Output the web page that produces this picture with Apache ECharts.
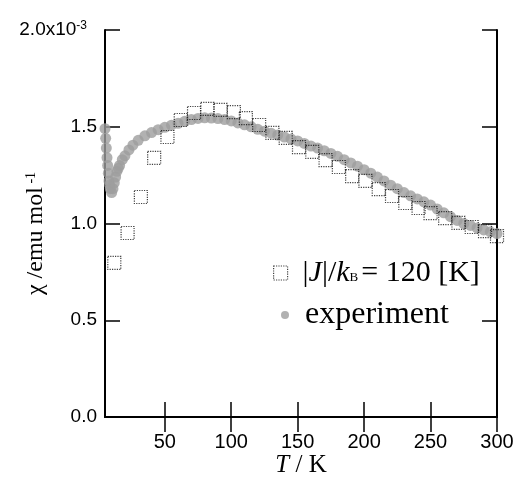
<!DOCTYPE html>
<html>
<head>
<meta charset="utf-8">
<script src="https://cdn.jsdelivr.net/npm/echarts@6/dist/echarts.min.js"></script>
<style>
  html, body { margin: 0; padding: 0; background: #fff; }
  #chart { width: 516px; height: 485px; }
</style>
</head>
<body>
<div id="chart"></div>
<script>
// susceptibility in units of 10^-3 emu/mol
var modelT = [12, 22, 32, 42, 52, 62, 72, 82, 92, 102, 111, 121, 131, 141, 151, 161, 171, 181, 191, 201,
              211, 221, 231, 241, 250, 261, 271, 281, 291, 300];
var modelChi = [0.796, 0.951, 1.137, 1.339, 1.447, 1.535, 1.571, 1.592, 1.587, 1.576, 1.545, 1.509, 1.468, 1.442, 1.395,
                1.370, 1.328, 1.292, 1.245, 1.220, 1.178, 1.142, 1.106, 1.080, 1.054, 1.028, 1.003, 0.982, 0.961, 0.935];

var expT = [5, 5.5, 6, 6.5, 7, 7.5, 8, 8.5, 9, 10, 11, 12, 13, 14, 15, 16, 18, 20, 23, 26, 30, 35, 40, 45, 50,
            55, 60, 65, 70, 75, 80, 85, 90, 95, 100, 105, 110, 115, 120, 125, 130, 135, 140, 145, 150,
            155, 160, 165, 170, 175, 180, 185, 190, 195, 200, 205, 210, 215, 220, 225, 230, 235, 240, 245,
            250, 255, 260, 265, 270, 275, 280, 285, 290, 295, 300];
var expChi = [1.49, 1.44, 1.39, 1.34, 1.30, 1.26, 1.22, 1.20, 1.18, 1.16, 1.18, 1.21, 1.24, 1.27, 1.285, 1.30, 1.33, 1.35,
              1.38, 1.405, 1.43, 1.453, 1.47, 1.485, 1.497, 1.508, 1.518, 1.528, 1.537, 1.543, 1.546, 1.545, 1.542,
              1.537, 1.53, 1.52, 1.51, 1.50, 1.487, 1.477, 1.467, 1.457, 1.447, 1.437, 1.427, 1.414, 1.40, 1.39,
              1.376, 1.362, 1.347, 1.33, 1.313, 1.296, 1.278, 1.26, 1.24, 1.22, 1.198, 1.18, 1.16, 1.143, 1.127,
              1.112, 1.095, 1.075, 1.055, 1.035, 1.016, 1.0, 0.99, 0.977, 0.967, 0.957, 0.948];

var xTicks = [50, 100, 150, 200, 250, 300];

function pairs(xs, ys) {
    var out = [];
    for (var i = 0; i < xs.length; i++) out.push([xs[i], ys[i]]);
    return out;
}

var myChart = echarts.init(document.getElementById('chart'), null, {renderer: 'canvas'});

var lineStyle = { color: '#000', width: 2 };
var tickStyle = { color: '#000', width: 1.5 };
var sans = 'Liberation Sans';
var serif = 'Liberation Serif';

var option = {
    animation: false,
    backgroundColor: '#fff',
    grid: { left: 105, right: 19, top: 30, bottom: 68, outerBoundsMode: 'none', containLabel: false },
    xAxis: [
        {
            type: 'value', min: 5, max: 300,
            axisLine: { show: true, lineStyle: lineStyle },
            axisTick: { inside: true, length: 15, lineStyle: tickStyle, customValues: xTicks },
            axisLabel: { customValues: xTicks, color: '#000', fontFamily: sans, fontSize: 20, margin: 15 },
            splitLine: { show: false },
            name: '{i|T} / K',
            nameLocation: 'middle',
            nameGap: 36,
            nameMoveOverlap: false,
            nameTextStyle: {
                color: '#000', fontFamily: serif, fontSize: 25,
                rich: { i: { fontStyle: 'italic', fontFamily: serif, fontSize: 25, color: '#000' } }
            }
        },
        {
            type: 'value', min: 5, max: 300, position: 'top',
            axisLine: { show: true, lineStyle: lineStyle },
            axisTick: { inside: true, length: 15, lineStyle: tickStyle, customValues: xTicks },
            axisLabel: { show: false },
            splitLine: { show: false }
        }
    ],
    yAxis: [
        {
            type: 'value', min: 0, max: 2.0, interval: 0.5,
            axisLine: { show: true, lineStyle: lineStyle },
            axisTick: { inside: true, length: 15, lineStyle: tickStyle },
            axisLabel: {
                color: '#000', fontFamily: sans, fontSize: 19, margin: 8,
                formatter: function (v) {
                    if (v === 2) return '{a|2.0x10}{sup|-3}';
                    return v.toFixed(1);
                },
                rich: {
                    a: { fontFamily: sans, fontSize: 19, color: '#000' },
                    sup: { fontFamily: sans, fontSize: 12, color: '#000', verticalAlign: 'top', padding: [0, 10, 8, 0] }
                }
            },
            splitLine: { show: false },
            name: '{n|χ /emu mol}{sup| -1}',
            nameLocation: 'middle',
            nameGap: 57,
            nameMoveOverlap: false,
            nameTextStyle: {
                color: '#000',
                padding: [0, 20, 0, 0],
                rich: {
                    n: { fontFamily: serif, fontSize: 24, color: '#000' },
                    sup: { fontFamily: serif, fontSize: 14, color: '#000', verticalAlign: 'top', padding: [0, 0, 10, 0] }
                }
            }
        },
        {
            type: 'value', min: 0, max: 2.0, interval: 0.5, position: 'right',
            axisLine: { show: true, lineStyle: lineStyle },
            axisTick: { inside: true, length: 15, lineStyle: tickStyle },
            axisLabel: { show: false },
            splitLine: { show: false }
        }
    ],
    legend: [
        {
            data: ['model'],
            left: 268, top: 253,
            itemWidth: 14, itemHeight: 14,
            icon: 'rect',
            itemStyle: { color: 'transparent', borderColor: '#111', borderWidth: 1.2, borderType: 'dotted' },
            formatter: function () { return '{n||}{i|J}{n||/}{i|k}{s|B}{n|= 120 [K]}'; },
            textStyle: {
                padding: [0, 0, 0, 10],
                rich: {
                    n: { fontFamily: serif, fontSize: 30, color: '#000' },
                    i: { fontFamily: serif, fontSize: 30, fontStyle: 'italic', color: '#000' },
                    s: { fontFamily: serif, fontSize: 13, color: '#000', verticalAlign: 'bottom', padding: [0, 3, 4, 0] }
                }
            }
        },
        {
            data: ['experiment'],
            left: 276, top: 294,
            itemWidth: 8, itemHeight: 8,
            icon: 'circle',
            textStyle: { fontFamily: serif, fontSize: 32, color: '#000', padding: [0, 0, 0, 11] }
        }
    ],
    series: [
        {
            name: 'experiment',
            type: 'scatter',
            symbol: 'circle',
            symbolSize: 11,
            itemStyle: { color: '#9e9e9e' },
            data: pairs(expT, expChi),
            z: 2
        },
        {
            name: 'model',
            type: 'scatter',
            symbol: 'rect',
            symbolSize: 13,
            itemStyle: { color: 'transparent', borderColor: '#111', borderWidth: 1.2, borderType: 'dotted' },
            data: pairs(modelT, modelChi),
            z: 3
        }
    ]
};

myChart.setOption(option);
</script>
</body>
</html>
